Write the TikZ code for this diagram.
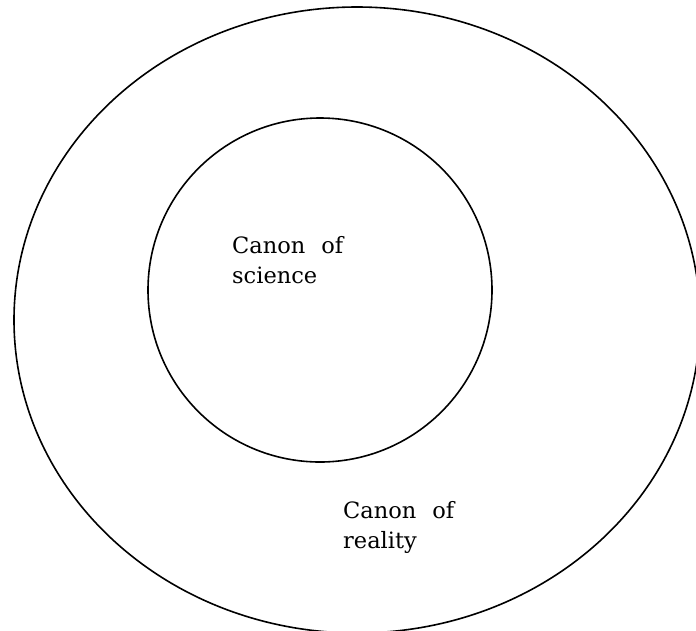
\documentclass[tikz,border=0pt]{standalone}
\usepackage{fontspec}
\setmainfont{DejaVu Serif}
\usepackage{tikz}
\usetikzlibrary{shapes.geometric}
\tikzset{
  ring/.style={draw=black,line width=1.6pt},
  canon/.style={align=left,anchor=north west,inner sep=0pt,
        font=\fontsize{22.5}{30}\selectfont}
}
\begin{document}
\begin{tikzpicture}[x=1pt,y=-1pt]
  \clip (0,0) rectangle (696,630);
  \useasboundingbox (0,0) rectangle (696,630);
  % outer ring and inner circle
  \node[ring,ellipse,minimum width=686pt,minimum height=626pt,inner sep=0pt] (reality) at (357,320) {};
  \node[ring,circle,minimum size=344pt,inner sep=0pt] (science) at (320,290) {};
  % labels
  \node[canon] (sciencelbl) at (232,236) {Canon\hspace{16pt}of\\science};
  \node[canon] (realitylbl) at (343,501) {Canon\hspace{16pt}of\\reality};
\end{tikzpicture}
\end{document}
